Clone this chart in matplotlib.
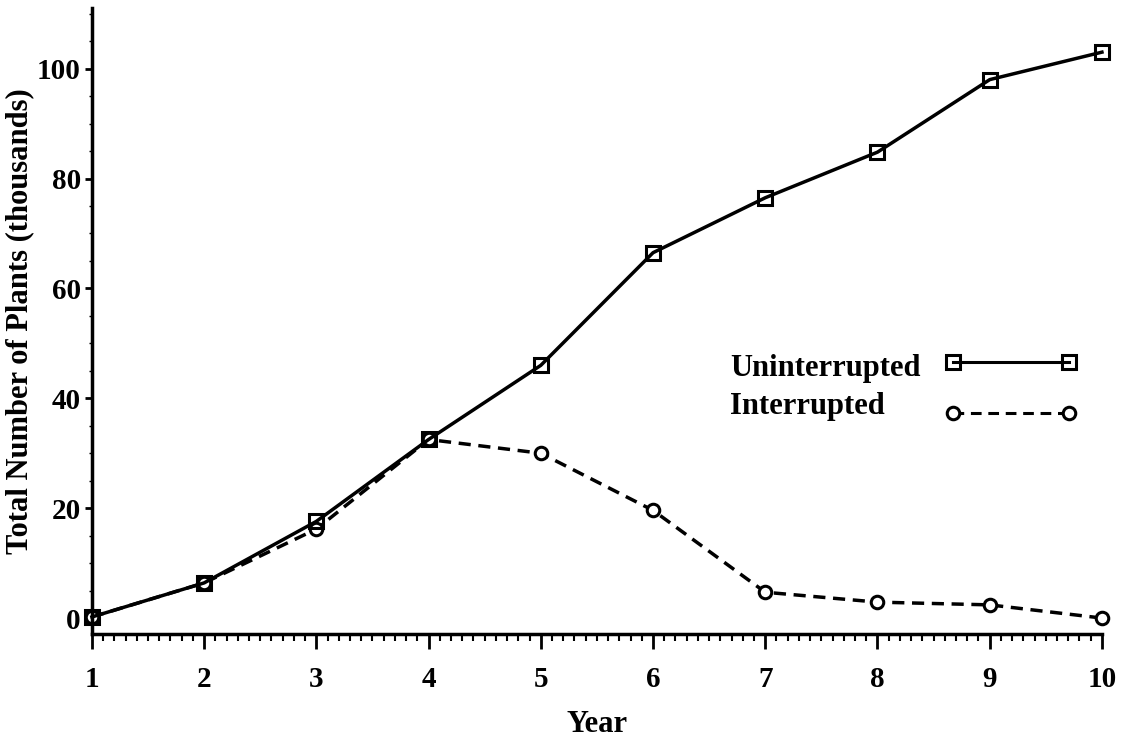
import numpy as np
import matplotlib
matplotlib.use('Agg')
import matplotlib.pyplot as plt
from matplotlib.ticker import MultipleLocator

plt.rcParams['font.family'] = ['Liberation Serif', 'DejaVu Serif']
plt.rcParams['font.weight'] = 'bold'

years = [1, 2, 3, 4, 5, 6, 7, 8, 9, 10]
uninterrupted = [0.2, 6.4, 17.6, 32.5, 46.0, 66.5, 76.5, 84.8, 98.0, 103.0]
interrupted = [0.2, 6.4, 16.2, 32.5, 30.0, 19.6, 4.7, 2.9, 2.4, 0.0]
series_names = ['Uninterrupted', 'Interrupted']

fig = plt.figure(figsize=(11.21, 7.45), dpi=100)
ax = fig.add_axes([0.082, 0.149, 0.901, 0.84])

dash = (0, (3.5, 2.2))
ax.plot(years, interrupted, color='black', linestyle=dash, linewidth=2.5,
        marker='o', markersize=9, markerfacecolor='white', markeredgewidth=2.2,
        clip_on=False, zorder=2)
ax.plot(years, uninterrupted, color='black', linestyle='-', linewidth=2.5,
        marker='s', markersize=10, markerfacecolor='none', markeredgewidth=2.2,
        clip_on=False, zorder=3)

ax.set_xlim(1, 10)
ax.set_ylim(-2.9, 111)
ax.set_xticks(years)
ax.set_yticks([0, 20, 40, 60, 80, 100])
ax.xaxis.set_minor_locator(MultipleLocator(0.1))
ax.yaxis.set_minor_locator(MultipleLocator(5))

for s in ['top', 'right']:
    ax.spines[s].set_visible(False)
for s in ['left', 'bottom']:
    ax.spines[s].set_linewidth(2.5)

ax.tick_params(axis='x', which='major', direction='out', length=11, width=2, labelsize=21, pad=12)
ax.tick_params(axis='x', which='minor', direction='out', length=5, width=1.5)
ax.tick_params(axis='y', which='major', direction='out', length=5, width=2, labelsize=21, pad=3)
ax.tick_params(axis='y', which='minor', direction='out', length=2, width=1)

ax.set_xlabel('Year', fontsize=22, fontweight='bold', labelpad=12)
ax.set_ylabel('Total Number of Plants (thousands)', fontsize=22, fontweight='bold', labelpad=2)

# hand-drawn key, as in the original figure
key_styles = [dict(linestyle='-', marker='s', markersize=10, markerfacecolor='none'),
              dict(linestyle=dash, marker='o', markersize=9, markerfacecolor='white')]
text_y = [0.425, 0.363]
line_y = [0.434, 0.353]
for name, st, ty, ly in zip(series_names, key_styles, text_y, line_y):
    ax.text(0.632, ty, name, transform=ax.transAxes, fontsize=22, fontweight='bold',
            va='center', ha='left')
    ax.plot([0.853, 0.967], [ly, ly], transform=ax.transAxes, color='black',
            linewidth=2.2, markeredgewidth=2.2, clip_on=False, **st)

fig.savefig('out.png', dpi=100)
